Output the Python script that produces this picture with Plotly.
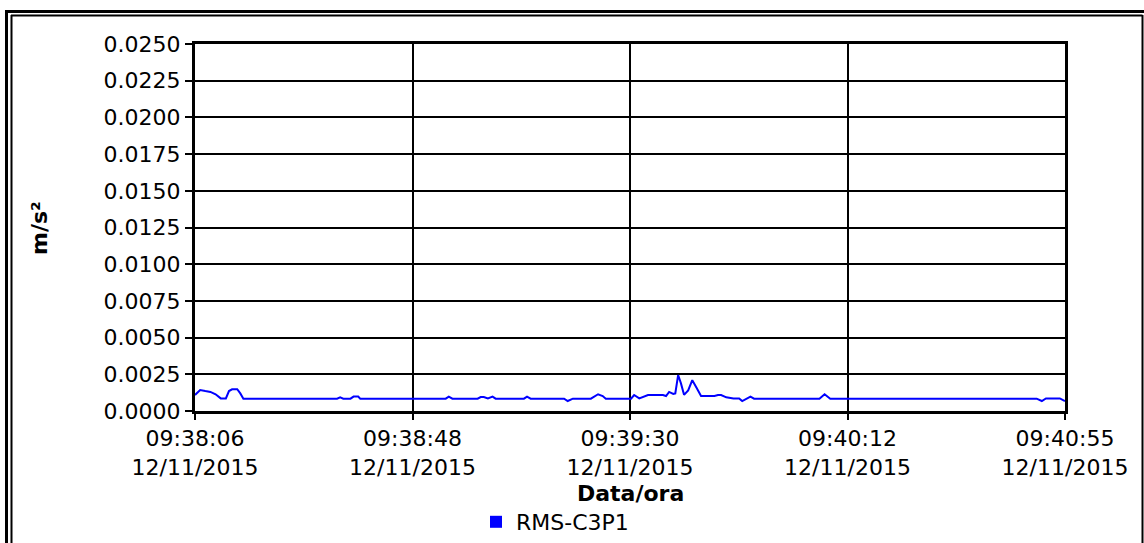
import pandas as pd
import plotly.graph_objects as go

# --- data ---
start_time = "2015-11-12 09:38:06.1"
seconds = [0, 1, 2, 3, 4, 5, 6, 6.6, 7.2, 8.2, 8.8, 9.4,
           27.6, 28.2, 28.8, 30.2, 30.8, 31.7, 32.1,
           48.7, 49.3, 50.0, 54.9, 55.5, 56.1, 56.9, 57.8, 58.4,
           63.9, 64.5, 65.2, 71.7, 72.4, 73.4, 76.9, 77.5, 78.3, 79.2, 79.8,
           84.7, 85.3, 86.3, 87.2, 88.0, 90.9, 91.5, 92.1, 92.9, 93.3, 93.85,
           94.4, 95.0, 95.8, 96.6, 97.4, 98.3, 100.9, 101.6, 102.2, 103.2,
           104.6, 105.7, 106.3, 107.1, 107.9, 108.6,
           121.3, 122.3, 122.9, 123.4, 163.5, 164.5, 165.3, 168.0, 169.0]
rms_c3p1 = [0.00109, 0.00143, 0.00136, 0.00130, 0.00114, 0.00086, 0.00086, 0.00136, 0.00148, 0.00148, 0.00120, 0.00084,
            0.00084, 0.00093, 0.00084, 0.00084, 0.00098, 0.00098, 0.00084,
            0.00084, 0.00098, 0.00084, 0.00084, 0.00095, 0.00095, 0.00086, 0.00098, 0.00084,
            0.00084, 0.00098, 0.00084, 0.00084, 0.00068, 0.00084, 0.00084, 0.00098, 0.00114, 0.00102, 0.00084,
            0.00084, 0.00109, 0.00086, 0.00098, 0.00109, 0.00109, 0.00102, 0.00130, 0.00116, 0.00120, 0.00245,
            0.00188, 0.00110, 0.00140, 0.00210, 0.00160, 0.00102, 0.00102, 0.00109, 0.00109, 0.00093,
            0.00086, 0.00086, 0.00068, 0.00086, 0.00098, 0.00084,
            0.00084, 0.00114, 0.00098, 0.00084, 0.00084, 0.00068, 0.00086, 0.00086, 0.00068]
x_tick_seconds = [0, 42.25, 84.5, 126.75, 169]
x_tick_labels = ["09:38:06<br>12/11/2015", "09:38:48<br>12/11/2015", "09:39:30<br>12/11/2015",
                 "09:40:12<br>12/11/2015", "09:40:55<br>12/11/2015"]
y_ticks = [0.0, 0.0025, 0.005, 0.0075, 0.01, 0.0125, 0.015, 0.0175, 0.02, 0.0225, 0.025]
series_name = "RMS-C3P1"
x_title = "Data/ora"
y_title = "m/s²"

t0 = pd.Timestamp(start_time)
times = [t0 + pd.to_timedelta(s, unit="s") for s in seconds]
tick_times = [t0 + pd.to_timedelta(s, unit="s") for s in x_tick_seconds]

FONT = "DejaVu Sans"
FS = 22
W, H = 1144, 543
L, R, T, B = 195, 1065, 44, 411

fig = go.Figure()
fig.add_trace(go.Scatter(x=times, y=rms_c3p1, mode="lines",
                         line=dict(color="#0000FF", width=2), showlegend=False, name=series_name))
fig.add_trace(go.Scatter(x=[None], y=[None], mode="markers", name=series_name,
                         marker=dict(symbol="square", size=12, color="#0000FF")))

def px(x):
    return (x - L) / (R - L)

def py(y):
    return (B - y) / (B - T)

frame = [
    (5, 11.5, 1160, 11.5, 3), (6.5, 10, 6.5, 560, 3),
    (11, 15.5, 1142.5, 15.5, 2), (11.5, 15, 11.5, 560, 2), (1142.5, 15, 1142.5, 560, 2),
]
shapes = [dict(type="line", xref="paper", yref="paper", x0=px(a), y0=py(b), x1=px(c), y1=py(d),
               line=dict(color="black", width=w)) for a, b, c, d, w in frame]

annotations = [
    dict(text="<b>" + x_title + "</b>", xref="paper", yref="paper", x=px(630), y=py(493),
         xanchor="center", yanchor="middle", showarrow=False,
         font=dict(family=FONT, size=FS, color="black")),
    dict(text="<b>" + y_title + "</b>", xref="paper", yref="paper", x=px(39), y=py(228),
         xanchor="center", yanchor="middle", showarrow=False, textangle=-90,
         font=dict(family=FONT, size=FS, color="black")),
]

fig.update_layout(
    width=W, height=H,
    margin=dict(l=L, r=W - R, t=T, b=H - B, pad=0, autoexpand=False),
    paper_bgcolor="white", plot_bgcolor="white",
    font=dict(family=FONT, size=FS, color="black"),
    shapes=shapes,
    annotations=annotations,
    showlegend=True,
    legend=dict(orientation="h", x=px(476), y=py(522), xanchor="left", yanchor="middle",
                font=dict(family=FONT, size=FS, color="black"), bgcolor="rgba(0,0,0,0)",
                itemsizing="constant"),
    xaxis=dict(
        type="date", range=[tick_times[0], tick_times[-1]], automargin=False,
        tickmode="array", tickvals=tick_times, ticktext=x_tick_labels,
        showgrid=True, gridcolor="black", gridwidth=2,
        showline=True, linecolor="black", linewidth=3, mirror=True,
        ticks="outside", ticklen=6, tickwidth=2, tickcolor="black",
        tickfont=dict(family=FONT, size=FS, color="black"),
        zeroline=False,
    ),
    yaxis=dict(
        range=[0, 0.025], tickmode="array", tickvals=y_ticks, tickformat=".4f", automargin=False,
        showgrid=True, gridcolor="black", gridwidth=1.5,
        showline=True, linecolor="black", linewidth=3, mirror=True,
        ticks="outside", ticklen=7, tickwidth=2, tickcolor="black",
        tickfont=dict(family=FONT, size=FS, color="black"),
        zeroline=False,
    ),
)

fig.write_html("out.html", config={"displayModeBar": False},
               post_script="document.body.style.margin='0';document.body.style.overflow='hidden';")
